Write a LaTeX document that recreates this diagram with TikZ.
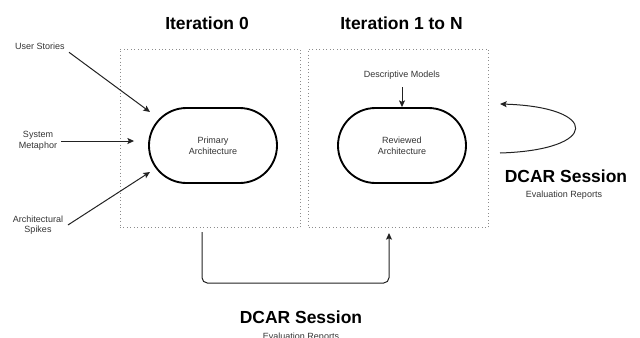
\documentclass[tikz,border=0pt]{standalone}
\usepackage{fontspec}
\setmainfont{Liberation Sans}
\usetikzlibrary{shapes.misc,arrows.meta}
\definecolor{labelgrey}{HTML}{333333}
\definecolor{linegrey}{HTML}{222222}
\definecolor{framegrey}{HTML}{8C8C8C}
\begin{document}
\begin{tikzpicture}[x=0.75pt,y=-0.75pt,
  lbl/.style={font=\fontsize{6.75pt}{8pt}\selectfont, text=labelgrey, inner sep=0pt, align=center},
  reportlbl/.style={lbl, anchor=base},
  heading/.style={font=\bfseries\fontsize{13.1pt}{15pt}\selectfont, inner sep=0pt, anchor=base},
  frame/.style={draw=framegrey, dotted, line width=0.6pt, minimum width=135pt, minimum height=133.9pt, inner sep=0pt},
  arch/.style={rounded rectangle, draw=black, line width=1.4pt, minimum width=96pt, minimum height=56.25pt, inner sep=0pt,
    font=\fontsize{6.75pt}{8.25pt}\selectfont, text=labelgrey, align=center},
  link/.style={draw=linegrey, line width=0.75pt, -{Stealth[length=5pt,width=4.5pt,inset=1pt]}}
]
\useasboundingbox (0,0) rectangle (640,337);
\clip (0,0) rectangle (640,337);

% iteration frames and their headings
\node[frame] (it0) at (210,138.25) {};
\node[frame] (itn) at (398.5,138.25) {};
\node[heading] (t0) at (207,29) {Iteration 0};
\node[heading] (tn) at (401.5,29) {Iteration 1 to N};

% architecture states
\node[arch] (pa) at (213,145.5) {Primary\\Architecture};
\node[arch] (ra) at (402,145.5) {Reviewed\\Architecture};

% inputs
\node[lbl, anchor=base] (us) at (40,49) {User Stories};
\node[lbl] (sm) at (38,141) {System\\Metaphor};
\node[lbl] (as) at (38,225) {Architectural\\Spikes};
\node[lbl, anchor=base] (dm) at (402,77) {Descriptive Models};

% DCAR sessions
\node[heading] (ds1) at (566,182) {DCAR Session};
\node[reportlbl] (er1) at (564,197) {Evaluation Reports};
\node[heading] (ds2) at (301,323) {DCAR Session};
\node[reportlbl] (er2) at (301,339) {Evaluation Reports};

% arrow tips and free ends
\coordinate (usTip) at (150,112);
\coordinate (asTip) at (150,172);
\coordinate (s0) at (202,232);
\coordinate (e0) at (389,233);
\coordinate (lpA) at (500,153);
\coordinate (lpB) at (500,104);

% connectors into the primary architecture
\draw[link] ([xshift=3pt,yshift=-2.2pt]us.south east) -- (usTip);
\draw[link] ([xshift=3pt]sm.east) -- ([xshift=-10.5pt]pa.west |- sm.east);
\draw[link] ([xshift=3.5pt]as.east) -- (asTip);

% descriptive models into the reviewed architecture
\draw[link] ([yshift=-7.5pt]dm.base) -- (ra.north);

% first review between iterations
\draw[link, rounded corners=4pt] (s0) -- (s0 |- 0,283) -- (e0 |- 0,283) -- (e0);

% repeated review loop
\draw[link] (lpA) .. controls (600,150) and (600,107) .. (lpB);
\end{tikzpicture}
\end{document}
